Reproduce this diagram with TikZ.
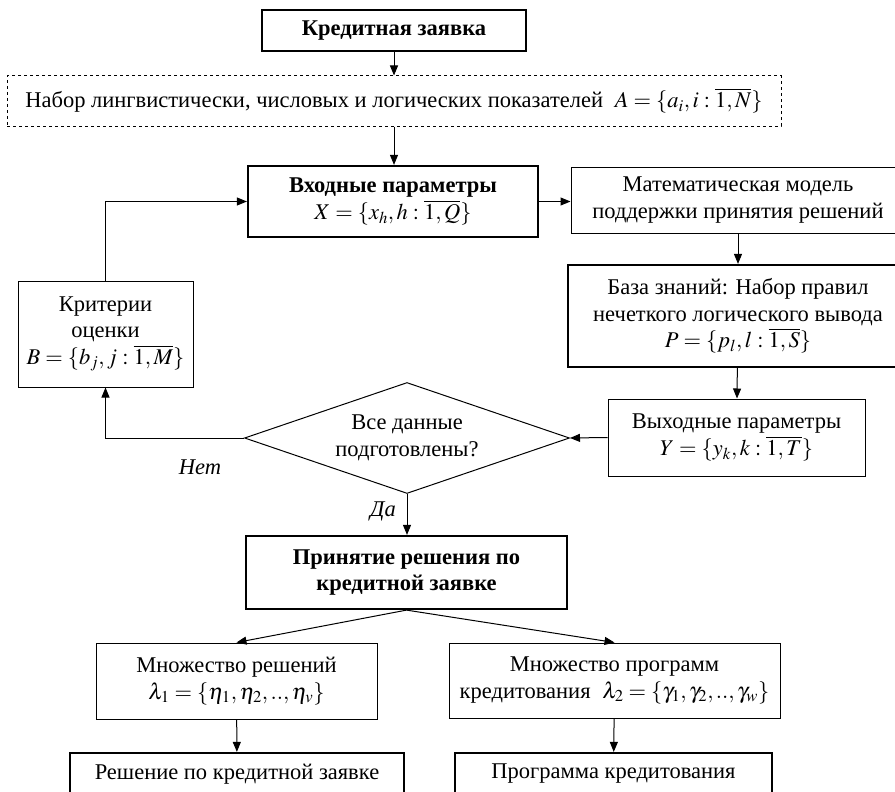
\documentclass[tikz,border=0pt]{standalone}
\usepackage{mathptmx}
\usepackage{fontspec}
\setmainfont{Liberation Serif}
\usetikzlibrary{arrows.meta,shapes.geometric}

\tikzset{
  basefont/.style = {font=\fontsize{22.5}{26.5}\selectfont},
  boldfont/.style = {font=\fontsize{22.5}{26.5}\selectfont\bfseries},
  box/.style = {shape=rectangle, draw, line width=1pt},
  thickbox/.style = {box, line width=2.2pt},
  dashbox/.style = {box, dashed},
  decision/.style = {shape=diamond, draw, line width=1pt, aspect=3},
  link/.style = {-{Triangle[length=10pt, width=8pt]}, line width=1pt}
}

\begin{document}
\begin{tikzpicture}[x=1pt, y=-1pt,
    every node/.style = {align=center, inner sep=0pt, basefont}]
  \useasboundingbox (0,0) rectangle (895,792);

  \node[thickbox, boldfont, minimum width=264, minimum height=41] (request) at (394,30.5) {Кредитная заявка};
  \node[dashbox, minimum width=774, minimum height=50] (indicators) at (394,101)
    {Набор лингвистически, числовых и логических показателей\; $A=\{a_i, i:\overline{1,N}\}$};
  \node[thickbox, boldfont, minimum width=290, minimum height=71] (inputs) at (393,201.5)
    {Входные параметры\\ $X=\{x_h, h:\overline{1,Q}\}$};
  \node[box, minimum width=334, minimum height=66] (model) at (738,200)
    {Математическая модель\\ поддержки принятия решений};
  \node[thickbox, minimum width=340, minimum height=102] (rules) at (738,316)
    {База знаний: Набор правил\\ нечеткого логического вывода\\ $P=\{p_l, l:\overline{1,S}\}$};
  \node[box, minimum width=257, minimum height=77] (outputs) at (736.5,437.5)
    {Выходные параметры\\ $Y=\{y_k, k:\overline{1,T}\}$};
  \node[box, minimum width=175, minimum height=106] (criteria) at (105.5,334)
    {Критерии\\ оценки\\ $B=\{b_j, j:\overline{1,M}\}$};
  \node[decision, minimum width=325, minimum height=111] (check) at (407,438)
    {Все данные\\ подготовлены?};
  \node[thickbox, boldfont, minimum width=321, minimum height=73] (decide) at (406.5,572.5)
    {Принятие решения по\\ кредитной заявке};
  \node[box, minimum width=281, minimum height=76] (solutions) at (236.5,681)
    {Множество решений\\ $\lambda_1=\{\eta_1,\eta_2,..,\eta_v\}$};
  \node[box, minimum width=331, minimum height=75] (programs) at (614.5,680.5)
    {Множество программ\\ кредитования\; $\lambda_2=\{\gamma_1,\gamma_2,..,\gamma_w\}$};
  \node[thickbox, minimum width=334, minimum height=42] (verdict) at (237,774)
    {Решение по кредитной заявке};
  \node[thickbox, minimum width=317, minimum height=42] (program) at (613.5,774)
    {Программа кредитования};

  \node (no) at (200,467) {\itshape Нет};
  \node (yes) at (383,511) {\itshape Да};

  \draw[link] (request) -- (indicators);
  \draw[link] (indicators.south) -- (indicators.south |- inputs.north);
  \draw[link] (inputs.east) -- (inputs.east -| model.west);
  \draw[link] (model) -- (rules);
  \draw[link] (rules) -- (outputs);
  \draw[link] (outputs.west) -- (check.east);
  \draw[link] (check.west) -| (criteria.south);
  \draw[link] (criteria.north) |- (inputs.west);
  \draw[link] (check.south) -- (check.south |- decide.north);
  \draw[link] (decide.south) -- (solutions.north);
  \draw[link] (decide.south) -- (programs.north);
  \draw[link] (solutions) -- (verdict);
  \draw[link] (programs) -- (program);
\end{tikzpicture}
\end{document}
